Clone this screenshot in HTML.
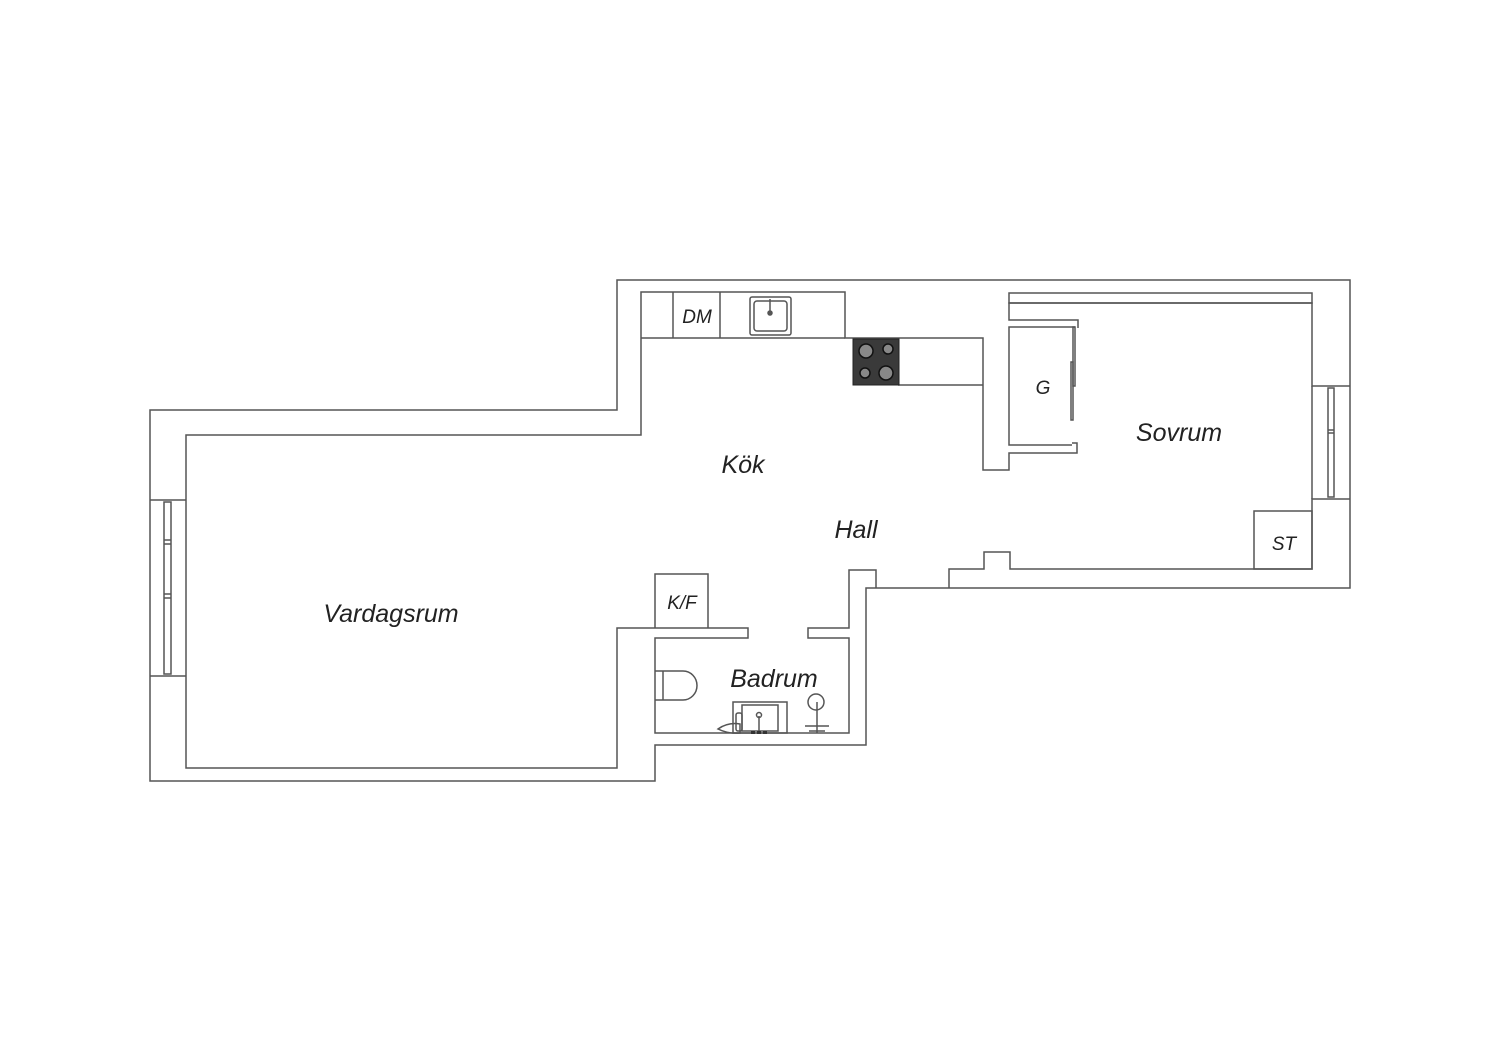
<!DOCTYPE html>
<html><head><meta charset="utf-8"><style>
html,body{margin:0;padding:0;background:#fff;width:1500px;height:1060px;overflow:hidden}
text{font-family:"Liberation Sans",sans-serif;font-style:italic;fill:#222}
</style></head><body>
<svg width="1500" height="1060" viewBox="0 0 1500 1060" xmlns="http://www.w3.org/2000/svg">
<g fill="none" stroke="#555" stroke-width="1.5">
<polygon points="617,280 1350,280 1350,588 866,588 866,745 655,745 655,781 150,781 150,410 617,410"/>
<polyline points="186,500 186,435 641,435 641,292 845,292 845,338 983,338 983,470 1009,470 1009,453 1077,453 1077,443 1072,443"/>
<line x1="641" y1="338" x2="845" y2="338"/>
<line x1="673" y1="292" x2="673" y2="338"/>
<line x1="720" y1="292" x2="720" y2="338"/>
<rect x="750" y="297" width="41" height="38" rx="2"/>
<rect x="754" y="301" width="33" height="30" rx="3"/>
<line x1="770" y1="299" x2="770" y2="312"/>
<circle cx="770" cy="313" r="2" fill="#555"/>
<line x1="898" y1="385" x2="983" y2="385"/>
<polyline points="186,676 186,768 617,768 617,628 748,628 748,638 655,638 655,733 849,733 849,638 808,638 808,628 849,628 849,570 876,570 876,588"/>
<line x1="186" y1="500" x2="186" y2="676"/>
<line x1="150" y1="500" x2="186" y2="500"/>
<line x1="150" y1="676" x2="186" y2="676"/>
<rect x="164" y="502" width="7" height="172"/>
<line x1="164" y1="540" x2="171" y2="540"/>
<line x1="164" y1="544" x2="171" y2="544"/>
<line x1="164" y1="594" x2="171" y2="594"/>
<line x1="164" y1="598" x2="171" y2="598"/>
<polyline points="655,628 655,574 708,574 708,628"/>
<polyline points="949,588 949,569 984,569 984,552 1010,552 1010,569 1312,569 1312,499 1350,499"/>
<polyline points="1350,386 1312,386 1312,303 1009,303 1009,320 1078,320 1078,328"/>
<rect x="1009" y="293" width="303" height="10"/>
<line x1="1312" y1="386" x2="1312" y2="499"/>
<rect x="1328" y="388" width="6" height="109"/>
<line x1="1328" y1="430" x2="1334" y2="430"/>
<line x1="1328" y1="433" x2="1334" y2="433"/>
<polyline points="1075,327 1009,327 1009,445 1072,445"/>
<rect x="1073" y="327" width="2" height="59"/>
<rect x="1071" y="362" width="2" height="58"/>
<rect x="1254" y="511" width="58" height="58"/>
<path d="M655,671 H683 A14,14.5 0 0 1 683,700 H655"/>
<line x1="663" y1="671" x2="663" y2="700"/>
<rect x="733" y="702" width="54" height="31"/>
<rect x="742" y="705" width="36" height="26"/>
<line x1="759" y1="716" x2="759" y2="731"/>
<circle cx="759" cy="715" r="2.5"/>
<path d="M718,729 Q728,722 740,724 L740,733 Q728,734 718,729Z"/>
<rect x="736" y="713" width="6" height="18" rx="2"/>
<circle cx="816" cy="702" r="8"/>
<line x1="817" y1="702" x2="817" y2="733"/>
<line x1="805" y1="726" x2="829" y2="726"/>
<line x1="809" y1="731" x2="825" y2="731"/>
</g>
<rect x="853" y="339" width="46" height="46" fill="#3a3a3a" stroke="#222"/>
<g fill="#888" stroke="#111" stroke-width="1.5">
<circle cx="866" cy="351" r="7"/><circle cx="888" cy="349" r="5"/>
<circle cx="865" cy="373" r="5"/><circle cx="886" cy="373" r="7"/>
</g>
<rect x="751" y="731" width="4" height="3" fill="#333"/><rect x="757" y="731" width="4" height="3" fill="#333"/><rect x="763" y="731" width="4" height="3" fill="#333"/>
<text x="743" y="473" font-size="25" text-anchor="middle">Kök</text>
<text x="856" y="538" font-size="25" text-anchor="middle">Hall</text>
<text x="1179" y="441" font-size="25" text-anchor="middle">Sovrum</text>
<text x="391" y="622" font-size="25" text-anchor="middle">Vardagsrum</text>
<text x="774" y="687" font-size="25" text-anchor="middle">Badrum</text>
<text x="697" y="323" font-size="19" text-anchor="middle">DM</text>
<text x="1043" y="394" font-size="19" text-anchor="middle">G</text>
<text x="1284" y="550" font-size="19" text-anchor="middle">ST</text>
<text x="682" y="609" font-size="19" text-anchor="middle">K/F</text>
</svg>
</body></html>
